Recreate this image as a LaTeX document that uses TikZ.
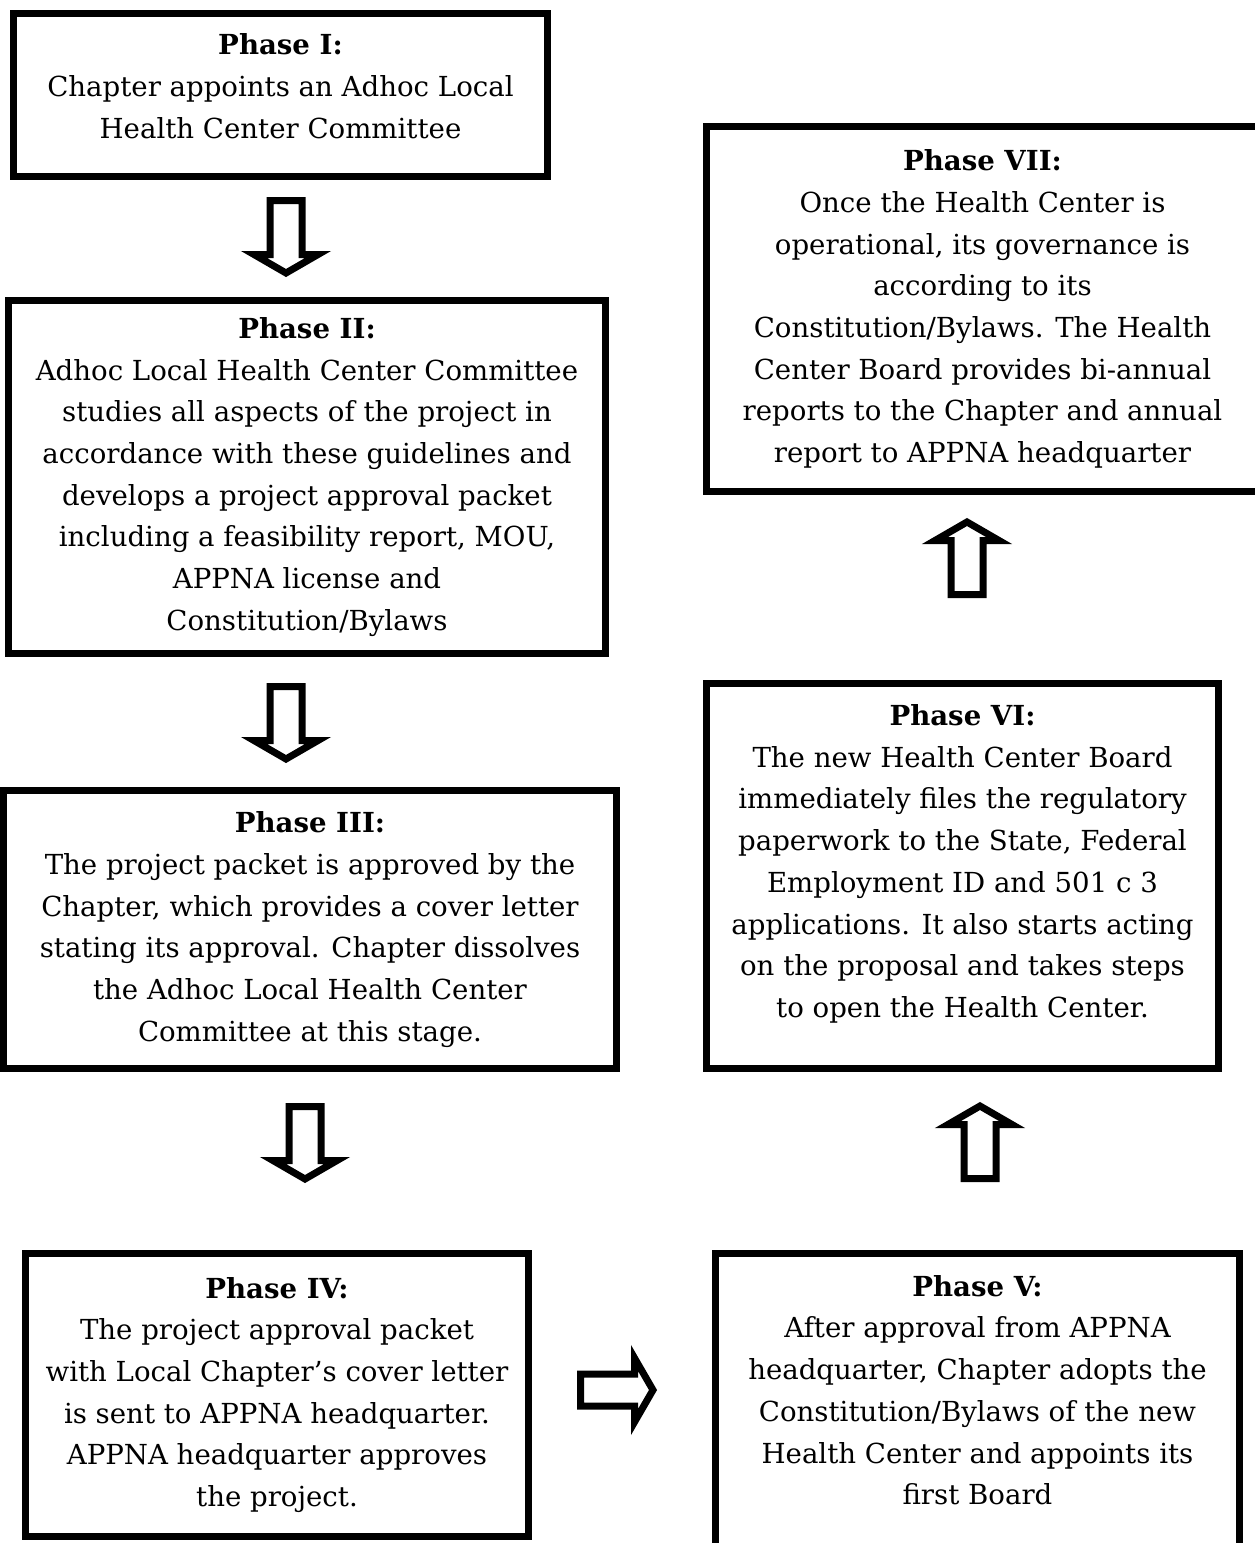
\documentclass[tikz,border=0pt]{standalone}
\usepackage{fontspec}
\setmainfont{DejaVu Serif}
\usetikzlibrary{positioning}

\begin{document}
\begin{tikzpicture}[x=1pt, y=-1pt,
    phase/.style={rectangle, draw=black, line width=7pt, fill=white, align=center, inner sep=0pt, font=\fontsize{27.6}{41.7}\selectfont},
    hollow/.style={draw=black, line width=7pt, fill=white},
    downarrow/.pic={\draw[hollow] (-16,3.5) -- (16,3.5) -- (16,57.5) -- (32,57.5) -- (0,76) -- (-32,57.5) -- (-16,57.5) -- cycle;},
  ]
  \useasboundingbox (0,0) rectangle (1254,1543);

  % Phases
  \node[phase, minimum width=534, minimum height=163, text depth=18] (p1) at (280.5,95)
    {\textbf{Phase I:}\\Chapter appoints an Adhoc Local\\Health Center Committee};
  \node[phase, minimum width=597, minimum height=353] (p2) at (307,477)
    {\textbf{Phase II:}\\Adhoc Local Health Center Committee\\studies all aspects of the project in\\accordance with these guidelines and\\develops a project approval packet\\including a feasibility report, MOU,\\APPNA license and\\Constitution/Bylaws};
  \node[phase, minimum width=613, minimum height=278] (p3) at (310,929.5)
    {\textbf{Phase III:}\\The project packet is approved by the\\Chapter, which provides a cover letter\\stating its approval. Chapter dissolves\\the Adhoc Local Health Center\\Committee at this stage.};
  \node[phase, minimum width=503, minimum height=283] (p4) at (277,1395)
    {\textbf{Phase IV:}\\The project approval packet\\with Local Chapter’s cover letter\\is sent to APPNA headquarter.\\APPNA headquarter approves\\the project.};
  % bottom edge runs off the page
  \node[phase, minimum width=524, minimum height=323, text depth=50] (p5) at (977.5,1415)
    {\textbf{Phase V:}\\After approval from APPNA\\headquarter, Chapter adopts the\\Constitution/Bylaws of the new\\Health Center and appoints its\\first Board};
  \node[phase, minimum width=512, minimum height=385, text depth=30] (p6) at (962.5,876)
    {\textbf{Phase VI:}\\The new Health Center Board\\immediately files the regulatory\\paperwork to the State, Federal\\Employment ID and 501 c 3\\applications. It also starts acting\\on the proposal and takes steps\\to open the Health Center.};
  \node[phase, minimum width=552, minimum height=365] (p7) at (982.5,309)
    {\textbf{Phase VII:}\\Once the Health Center is\\operational, its governance is\\according to its\\Constitution/Bylaws. The Health\\Center Board provides bi-annual\\reports to the Chapter and annual\\report to APPNA headquarter};

  % Arrows
  \pic at (286,197) {downarrow};
  \pic at (286,683) {downarrow};
  \pic at (305,1103) {downarrow};
  \pic[rotate=90] at (577,1390) {downarrow};
  \pic[rotate=180] at (980,1182) {downarrow};
  \pic[rotate=180] at (967,598) {downarrow};

\end{tikzpicture}
\end{document}
